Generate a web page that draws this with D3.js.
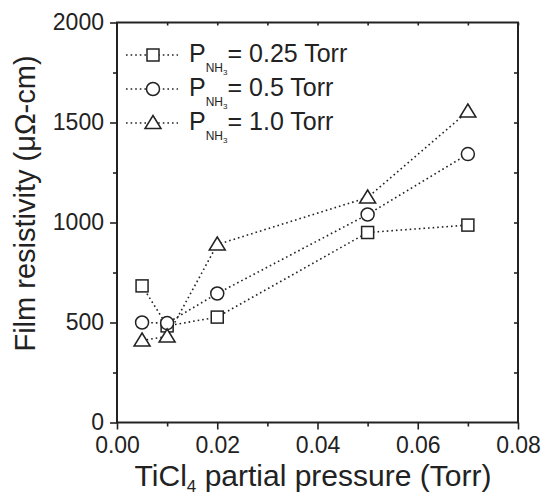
<!DOCTYPE html>
<html>
<head>
<meta charset="utf-8">
<script src="https://cdn.jsdelivr.net/npm/d3@7"></script>
<style>
  body { margin: 0; background: #fff; }
  text { font-family: "Liberation Sans", Arial, sans-serif; fill: #222; }
</style>
</head>
<body>
<div id="chart"></div>
<script>
// data
var pressures = [0.005, 0.01, 0.02, 0.05, 0.07];
var series = ["0.25", "0.5", "1.0"];
var res025 = [683, 483, 527, 950, 987];
var res05 = [500, 497, 645, 1040, 1342];
var res10 = [410, 430, 890, 1125, 1555];
var xTicks = [0, 0.02, 0.04, 0.06, 0.08];
var yTicks = [0, 500, 1000, 1500, 2000];

var width = 543, height = 497;
var margin = {left: 117, top: 22.5, right: 25, bottom: 74.5};

var svg = d3.select('#chart').append('svg')
  .attr('width', width).attr('height', height);

var x = d3.scaleLinear().domain([0, 0.08]).range([margin.left, width - margin.right]);
var y = d3.scaleLinear().domain([0, 2000]).range([height - margin.bottom, margin.top]);

var ink = '#222';

// frame
svg.append('rect')
  .attr('x', x(0)).attr('y', y(2000))
  .attr('width', x(0.08) - x(0)).attr('height', y(0) - y(2000))
  .style('fill', 'none').style('stroke', ink).style('stroke-width', 2);

// bottom axis
svg.append('g').attr('transform', 'translate(0,' + y(0) + ')')
  .call(d3.axisBottom(x).tickValues(xTicks).tickFormat(d3.format('.2f')).tickSize(7).tickPadding(7));
svg.append('g').attr('transform', 'translate(0,' + y(0) + ')')
  .call(d3.axisBottom(x).tickValues(d3.range(0.01, 0.08, 0.02)).tickFormat('').tickSize(4));

// left axis
svg.append('g').attr('transform', 'translate(' + x(0) + ',0)')
  .call(d3.axisLeft(y).tickValues(yTicks).tickFormat(d3.format('d')).tickSize(7).tickPadding(6));
svg.append('g').attr('transform', 'translate(' + x(0) + ',0)')
  .call(d3.axisLeft(y).tickValues(d3.range(250, 2000, 500)).tickFormat('').tickSize(4));

// mirrored ticks inside on top and right
svg.append('g').attr('transform', 'translate(0,' + y(2000) + ')')
  .call(d3.axisBottom(x).tickValues(d3.range(0.01, 0.08, 0.01)).tickFormat('').tickSize(3));
svg.append('g').attr('transform', 'translate(' + x(0.08) + ',0)')
  .call(d3.axisLeft(y).tickValues(d3.range(250, 2000, 250)).tickFormat('').tickSize(4));

svg.selectAll('.domain').remove();
svg.selectAll('.tick line').style('stroke', ink).style('stroke-width', 1.6);
svg.selectAll('.tick text').style('font-size', '23px').style('fill', ink)
  .style('font-family', '"Liberation Sans", Arial, sans-serif');

// axis titles
svg.append('text')
  .attr('x', 313).attr('y', 486)
  .attr('text-anchor', 'middle').style('font-size', '30px')
  .html('TiCl<tspan dy="6" font-size="17px">4</tspan><tspan dy="-6"> partial pressure (Torr)</tspan>');

svg.append('text')
  .attr('transform', 'translate(35,' + ((y(0) + y(2000)) / 2 - 19) + ') rotate(-90)')
  .attr('text-anchor', 'middle').style('font-size', '29px')
  .text('Film resistivity (\u03bc\u03a9-cm)');

// series
var data = [
  {name: series[0], values: res025, shape: 'square'},
  {name: series[1], values: res05, shape: 'circle'},
  {name: series[2], values: res10, shape: 'triangle'}
];

var line = d3.line().x(function(d, i) { return x(pressures[i]); }).y(function(d) { return y(d); });

function marker(g, shape, cx, cy) {
  if (shape === 'square') {
    g.append('rect').attr('x', cx - 6).attr('y', cy - 6).attr('width', 12).attr('height', 12);
  } else if (shape === 'circle') {
    g.append('circle').attr('cx', cx).attr('cy', cy).attr('r', 6.5);
  } else {
    g.append('path').attr('d', 'M' + cx + ',' + (cy - 7.5) + 'L' + (cx + 8) + ',' + (cy + 5.5) + 'L' + (cx - 8) + ',' + (cy + 5.5) + 'Z');
  }
}

data.forEach(function(s) {
  svg.append('path')
    .attr('d', line(s.values))
    .style('fill', 'none').style('stroke', ink)
    .style('stroke-width', 1.6).style('stroke-dasharray', '1.6,3');
});

data.forEach(function(s) {
  var g = svg.append('g').style('fill', '#fff').style('stroke', ink).style('stroke-width', 1.5);
  s.values.forEach(function(v, i) { marker(g, s.shape, x(pressures[i]), y(v)); });
});

// legend
var legend = svg.append('g').attr('class', 'legend');
data.forEach(function(s, i) {
  var ly = 55 + i * 34;
  legend.append('line')
    .attr('x1', 126).attr('x2', 178).attr('y1', ly).attr('y2', ly)
    .style('stroke', ink).style('stroke-width', 1.6).style('stroke-dasharray', '1.6,3');
  var g = legend.append('g').style('fill', '#fff').style('stroke', ink).style('stroke-width', 1.5);
  marker(g, s.shape, 153, ly);
  legend.append('text')
    .attr('x', 189).attr('y', ly + 7).style('font-size', '25px')
    .html('P<tspan dy="10" font-size="12px">NH<tspan dy="3" font-size="8px">3</tspan></tspan><tspan dy="-13">= ' + s.name + ' Torr</tspan>');
});
</script>
</body>
</html>
